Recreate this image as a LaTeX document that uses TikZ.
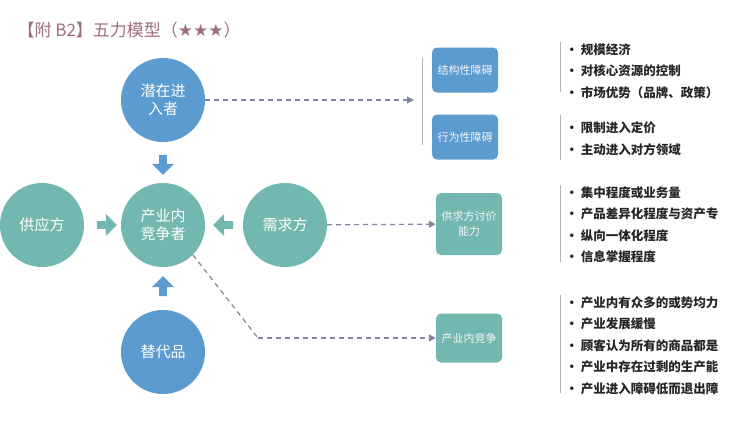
\documentclass[tikz,border=0pt]{standalone}
\usepackage{fontspec}
\setmainfont{Noto Sans CJK SC}
\newfontfamily\symfont{DejaVu Sans}
\usetikzlibrary{shapes.arrows, arrows.meta, positioning}
\definecolor{forceblue}{HTML}{5B9BD0}
\definecolor{forceteal}{HTML}{72B8B0}
\definecolor{titlerose}{HTML}{9E6E7C}
\definecolor{linkgray}{HTML}{7F86A0}
\tikzset{
    force/.style={circle, minimum size=84pt, inner sep=0pt, text=white, font=\fontsize{15}{18}\selectfont, align=center},
    barrier/.style={draw=none, rounded corners=5pt, minimum width=66pt, text=white!92!gray, font=\fontsize{11}{15}\selectfont, align=center},
    push/.style={single arrow, fill=#1, draw=none, minimum width=22pt, minimum height=20pt, single arrow head extend=3pt, inner sep=1.5pt},
    link/.style={draw=linkgray, dash pattern=on 5pt off 4pt, line width=1.2pt, -{Triangle[length=7pt,width=7pt]}},
    points/.style={anchor=west, align=left, font=\fontsize{12.5}{21.5}\selectfont\bfseries, text=black!85},
    rule/.style={draw=gray!60, line width=1pt}
}
\begin{document}
\begin{tikzpicture}[x=1pt, y=-1pt]
    \useasboundingbox (0,0) rectangle (754,424);
    \node[anchor=west, text=titlerose, font=\fontsize{17}{20}\selectfont] (title) at (14,30) {【附 B2】五力模型（{\symfont ★★★}）};
    % the five forces
    \node[force, fill=forceblue] (entrant) at (163,100) {潜在进\\入者};
    \node[force, fill=forceteal] (rivals) at (163,225) {产业内\\竞争者};
    \node[force, fill=forceteal] (supplier) at (42,225) {供应方};
    \node[force, fill=forceteal] (buyer) at (285,225) {需求方};
    \node[force, fill=forceblue] (substitute) at (163,352) {替代品};
    \node[push=forceblue, shape border rotate=270] (pushdown) at (163,163) {};
    \node[push=forceteal] (pushright) at (105,225) {};
    \node[push=forceteal, shape border rotate=180] (pushleft) at (225,225) {};
    \node[push=forceblue, shape border rotate=90] (pushup) at (163,288) {};
    % barrier boxes
    \node[barrier, fill=forceblue, minimum height=45pt] (structural) at (465,70) {结构性障碍};
    \node[barrier, fill=forceblue, minimum height=45pt] (behavioral) at (465,137) {行为性障碍};
    \node[barrier, fill=forceteal, minimum height=62pt] (bargain) at (469,224) {供求方讨价\\能力};
    \node[barrier, fill=forceteal, minimum height=49pt] (rivalry) at (469,338) {产业内竞争};
    \coordinate (entryin) at (414,100);
    \coordinate (bend) at (258,338);
    \draw[rule] (422,58) -- (422,145);
    \path[link] (entrant) -- (entryin);
    \path[link] (buyer) -- (bargain);
    \draw[draw=linkgray, dash pattern=on 5pt off 4pt, line width=1.2pt] (rivals.south east) -- (bend);
    \path[link] (bend) -- (rivalry);
    % bullet lists
    \draw[rule] (560,42) -- (560,92);
    \draw[rule] (560,115) -- (560,160);
    \draw[rule] (560,185) -- (560,262);
    \draw[rule] (560,295) -- (560,393);
    \node[points] (structuralpts) at (562,71) {• 规模经济\\• 对核心资源的控制\\• 市场优势（品牌、政策）};
    \node[points] (behavioralpts) at (562,138.5) {• 限制进入定价\\• 主动进入对方领域};
    \node[points] (bargainpts) at (562,224.5) {• 集中程度或业务量\\• 产品差异化程度与资产专\\• 纵向一体化程度\\• 信息掌握程度};
    \node[points] (rivalrypts) at (562,345.5) {• 产业内有众多的或势均力\\• 产业发展缓慢\\• 顾客认为所有的商品都是\\• 产业中存在过剩的生产能\\• 产业进入障碍低而退出障};
\end{tikzpicture}
\end{document}
